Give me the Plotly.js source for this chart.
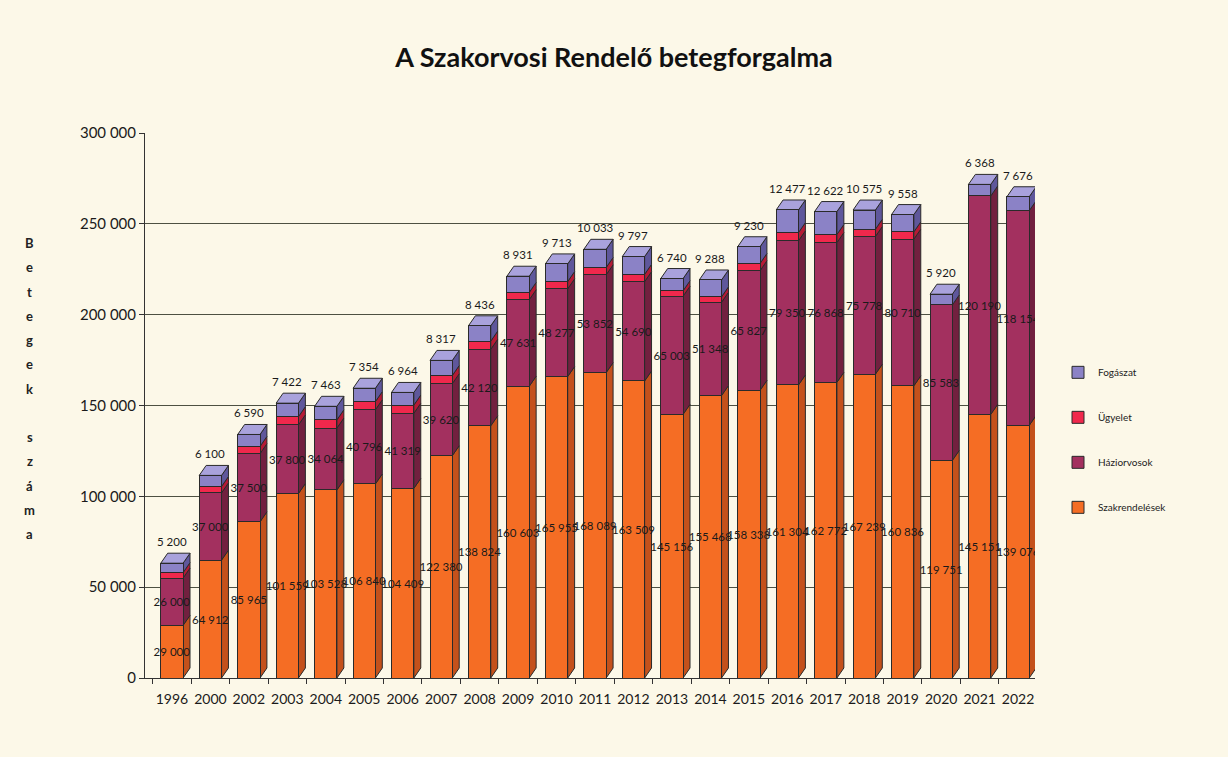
<!DOCTYPE html>
<html><head><meta charset="utf-8">
<script src="https://cdn.plot.ly/plotly-3.0.1.min.js"></script>
<style>html,body{margin:0;padding:0;background:#fcf8e8}</style>
</head><body><div id="chart" style="width:1228px;height:757px"></div>
<script>
const years = ['1996','2000','2002','2003','2004','2005','2006','2007','2008','2009','2010','2011','2012','2013','2014','2015','2016','2017','2018','2019','2020','2021','2022'];
const szakrendelesek = [29000,64912,85965,101559,103528,106840,104409,122380,138824,160603,165955,168089,163509,145156,155468,158338,161304,162772,167239,160836,119751,145151,139076];
const haziorvosok = [26000,37000,37500,37800,34064,40796,41319,39620,42120,47631,48277,53852,54690,65003,51348,65827,79350,76868,75778,80710,85583,120190,118154];
const ugyelet = [3000,3500,4000,4500,4500,4500,4500,4500,4500,4000,4000,4000,4000,3000,3000,4000,4500,4500,4000,4000,0,0,0];
const fogaszat = [5200,6100,6590,7422,7463,7354,6964,8317,8436,8931,9713,10033,9797,6740,9288,9230,12477,12622,10575,9558,5920,6368,7676];
const seriesNames = ['Szakrendelések','Háziorvosok','Ügyelet','Fogászat'];
const titleText = 'A Szakorvosi Rendelő betegforgalma';
const yTitleLetters = ['B','e','t','e','g','e','k','','s','z','á','m','a'];

const fmt = n => String(n).replace(/\B(?=(\d{3})+(?!\d))/g, ' ');
const FONT = 'Lato, "Open Sans", sans-serif';
const lineStyle = {color:'#2a2a2a', width:1};
const W = 0.58;          // bar width (category units)
const DX = 0.18, DY = 5500; // pseudo-3D depth offset (style)

const styles = [
  {front:'#f56d24', side:'#c4511b', top:'#f98a4e'},
  {front:'#a3305f', side:'#72203f', top:'#b85280'},
  {front:'#f0284c', side:'#b51a35', top:'#f55a75'},
  {front:'#8b82c6', side:'#5f579b', top:'#a9a2dc'}
];
const seriesVals = [szakrendelesek, haziorvosok, ugyelet, fogaszat];

function barTrace(k, withText){
  const vals = seriesVals[k];
  const t = {
    type:'bar', name:seriesNames[k], x:years, y:vals, width:W,
    marker:{color:styles[k].front, line:lineStyle},
    legendgroup:seriesNames[k], legendrank:4-k, hoverinfo:'y+name'
  };
  if (withText){
    t.text = vals.map(fmt);
    t.textposition = 'inside';
    t.insidetextanchor = 'middle';
    t.constraintext = 'none';
    t.textangle = 0;
    t.insidetextfont = {family:FONT, size:11.5, color:'#1a1a1a'};
  } else {
    t.textposition = 'none';
  }
  return t;
}

const traces = [barTrace(0,true), barTrace(1,true), barTrace(2,false), barTrace(3,false)];

const totals = years.map((_, i) => seriesVals.reduce((s, arr) => s + arr[i], 0));

// pseudo-3D side faces and lids, derived from the data
const shapes = [];
years.forEach((yr, i) => {
  let base = 0, topK = 0;
  seriesVals.forEach((arr, k) => {
    const v = arr[i];
    if (v > 0) {
      const x1 = i + W/2;
      shapes.push({type:'path', xref:'x', yref:'y', layer:'between',
        path:`M${x1},${base} L${x1+DX},${base+DY} L${x1+DX},${base+v+DY} L${x1},${base+v} Z`,
        fillcolor:styles[k].side, line:{color:'#2a2a2a', width:1}});
      topK = k;
    }
    base += v;
  });
  const xl = i - W/2, xr = i + W/2;
  shapes.push({type:'path', xref:'x', yref:'y', layer:'between',
    path:`M${xl},${base} L${xl+DX},${base+DY} L${xr+DX},${base+DY} L${xr},${base} Z`,
    fillcolor:styles[topK].top, line:{color:'#2a2a2a', width:1}});
});

const annotations = years.map((yr, i) => ({
  x: i, y: totals[i], xref:'x', yref:'y',
  text: fmt(fogaszat[i]), showarrow:false,
  yanchor:'bottom', yshift:13,
  font:{family:FONT, size:11.5, color:'#1a1a1a'}
}));

const yTop = 0.798, yStep = (0.798 - 0.264) / (yTitleLetters.length - 1);
yTitleLetters.forEach((ch, i) => {
  if (!ch) return;
  annotations.push({
    x: (30 - 145) / 890, xref:'paper', y: yTop - i*yStep, yref:'paper',
    xanchor:'center', yanchor:'middle', showarrow:false, text: '<b>'+ch+'</b>',
    font:{family:FONT, size:13, color:'#222'}
  });
});

const layout = {
  width:1228, height:757,
  paper_bgcolor:'#fcf8e8', plot_bgcolor:'#fcf8e8',
  margin:{l:145, r:193, t:133, b:79},
  separators:', ',
  barmode:'stack',
  font:{family:FONT, color:'#1a1a1a'},
  title:{text:'<b>'+titleText+'</b>', x:0.5, xref:'container', y:1-58/757, yref:'container', yanchor:'middle',
         font:{family:FONT, size:27, color:'#111'}},
  xaxis:{type:'category', range:[-0.7, 22.44], showgrid:false, showline:true, linecolor:'#333', linewidth:1,
         ticks:'outside', tickson:'boundaries', ticklen:5, tickcolor:'#333', tickangle:0, ticklabelstandoff:8,
         tickfont:{family:FONT, size:14, color:'#1a1a1a'}, fixedrange:true},
  yaxis:{range:[0,300000], tickvals:[0,50000,100000,150000,200000,250000,300000], tickformat:',d',
         showgrid:true, gridcolor:'#4d5042', gridwidth:1.3, zeroline:false,
         showline:true, linecolor:'#333', linewidth:1, ticks:'outside', ticklen:5, tickcolor:'#333',
         tickfont:{family:FONT, size:15, color:'#1a1a1a'}, fixedrange:true},
  legend:{x:(1058-145)/890, xanchor:'left', y:0.437, yanchor:'middle', traceorder:'grouped',
          tracegroupgap:26, font:{family:FONT, size:10, color:'#222'}, bgcolor:'rgba(0,0,0,0)', itemwidth:30},
  shapes:shapes,
  annotations:annotations,
  showlegend:true
};

Plotly.newPlot('chart', traces, layout, {displayModeBar:false, staticPlot:true});
</script></body></html>
